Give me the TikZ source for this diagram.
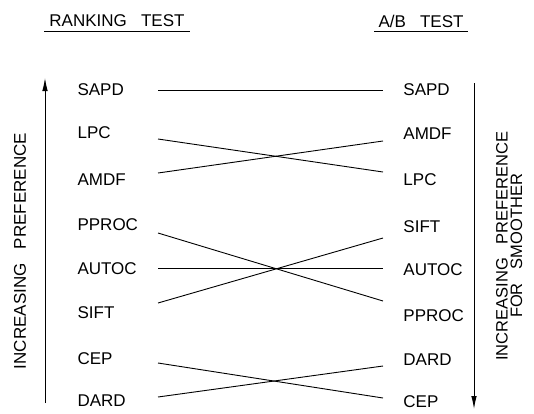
\documentclass[tikz,border=0pt]{standalone}
\usepackage{fontspec}
\setmainfont{Liberation Sans}
\usetikzlibrary{arrows.meta}

\tikzset{
    lab/.style={font=\fontsize{17}{19}\selectfont, inner ysep=0pt, text depth=0pt},
    lname/.style={lab, anchor=east, text width=60pt, align=left, inner xsep=20pt},
    rname/.style={lab, anchor=west, inner xsep=20pt},
    axe/.style={line width=0.9pt, -{Latex[length=13pt,width=5.5pt]}},
}

\begin{document}
\begin{tikzpicture}[x=1pt, y=-1pt, line width=0.9pt]
    \useasboundingbox (0,0) rectangle (534,413);
    % titres
    \node[lab, inner xsep=5pt, inner ysep=4pt] (T1) at (117,21) {RANKING~~~TEST};
    \node[lab, inner xsep=4pt, inner ysep=4pt] (T2) at (421,21) {A/B~~~TEST};
    \draw (T1.south west) -- (T1.south east);
    \draw (T2.south west) -- (T2.south east);
    % classement
    \node[lname] (L1) at (158,90) {SAPD};
    \node[lname] (L2) at (158,133) {LPC};
    \node[lname] (L3) at (158,180) {AMDF};
    \node[lname] (L4) at (158,225) {PPROC};
    \node[lname] (L5) at (158,269) {AUTOC};
    \node[lname] (L6) at (158,313) {SIFT};
    \node[lname] (L7) at (158,359) {CEP};
    \node[lname] (L8) at (158,401) {DARD};
    % test A/B
    \node[rname] (R1) at (383,90) {SAPD};
    \node[rname] (R2) at (383,134) {AMDF};
    \node[rname] (R3) at (383,180) {LPC};
    \node[rname] (R4) at (383,227) {SIFT};
    \node[rname] (R5) at (383,270) {AUTOC};
    \node[rname] (R6) at (383,316) {PPROC};
    \node[rname] (R7) at (383,360) {DARD};
    \node[rname] (R8) at (383,402) {CEP};
    \draw (L1.east) to (R1.west);
    \draw ([yshift=-6pt]L2.east) to ([yshift=8pt]R3.west);
    \draw ([yshift=7pt]L3.east) to ([yshift=-7pt]R2.west);
    \draw ([yshift=-8pt]L4.east) to ([yshift=15pt]R6.west);
    \draw ([yshift=1pt]L5.east) to ([yshift=2pt]R5.west);
    \draw ([yshift=10pt]L6.east) to ([yshift=-11pt]R4.west);
    \draw ([yshift=-4pt]L7.east) to ([yshift=4pt]R8.west);
    \draw ([yshift=4pt]L8.east) to ([yshift=-6pt]R7.west);
    % axes
    \coordinate (a1) at (45,403);
    \coordinate (a2) at (45,78);
    \coordinate (b1) at (474,83);
    \coordinate (b2) at (474,409);
    \draw[axe] (a1) -- (a2);
    \draw[axe] (b1) -- (b2);
    \node[lab, rotate=90] (P1) at (20,251) {INCREASING~~~PREFERENCE};
    \node[lab, rotate=90, align=center, font=\fontsize{16.5}{14.5}\selectfont] (P2) at (509,246)
        {INCREASING~~~PREFERENCE\\FOR~~~SMOOTHER};
\end{tikzpicture}
\end{document}
